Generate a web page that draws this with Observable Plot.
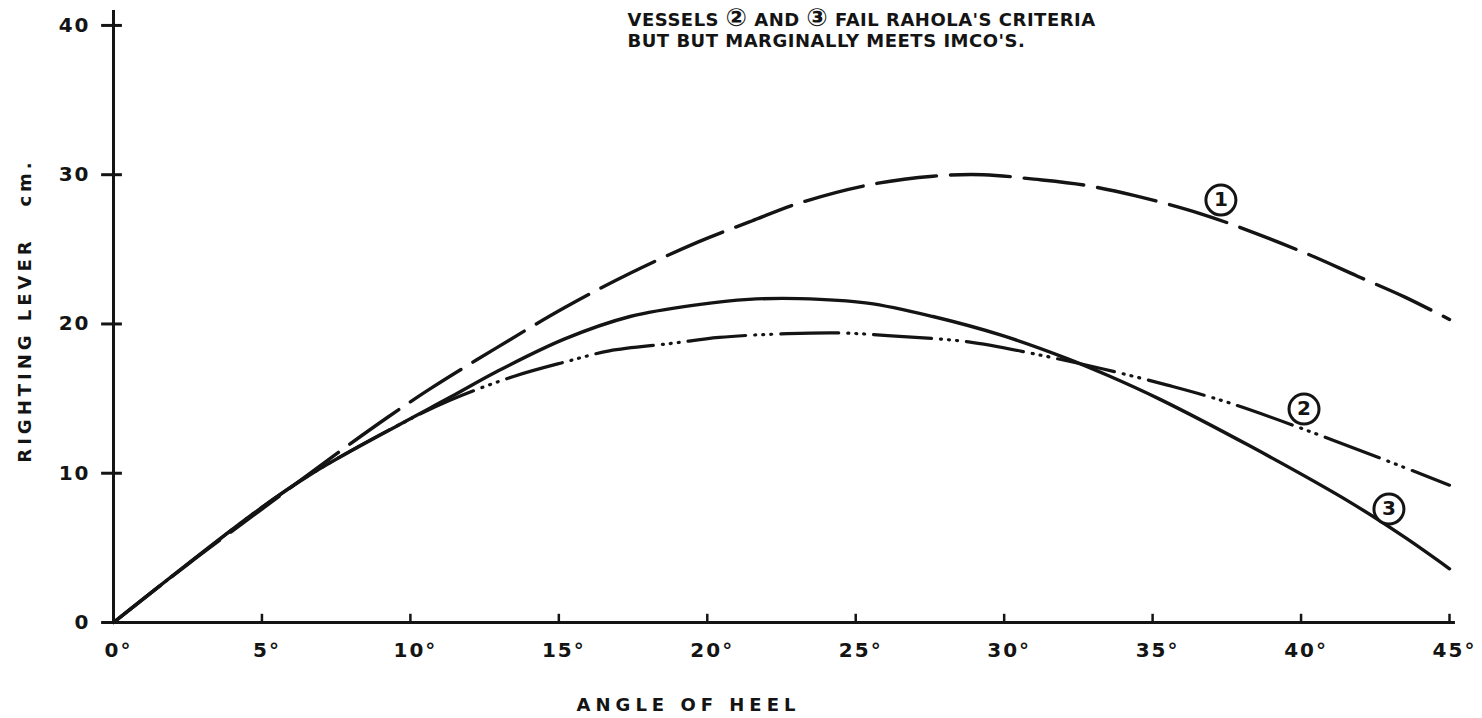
<!DOCTYPE html>
<html><head><meta charset="utf-8">
<script src="https://cdn.jsdelivr.net/npm/d3@7"></script>
<script src="https://cdn.jsdelivr.net/npm/@observablehq/plot@0.6"></script>
<style>body{margin:0;background:#fff}</style>
</head><body><div id="chart"></div>
<script>
// Vessel 1 (long dashes)
const angle1 = [0, 2.5, 5, 7.2, 9.2, 10.7, 12.9, 15.2, 17.4, 19.7, 21.5, 23.1, 25.4, 27.6, 29.3, 31.0, 32.7, 34.4, 36.6, 37.9, 40.2, 41.9, 43.5, 45];
const lever1 = [0, 3.9, 7.6, 10.85, 13.7, 15.7, 18.4, 21.1, 23.4, 25.5, 26.9, 28.1, 29.3, 29.9, 30.0, 29.7, 29.3, 28.6, 27.4, 26.5, 24.7, 23.2, 21.8, 20.3];
// Vessel 2 (dash-dot-dot)
const angle2 = [0, 4.85, 6.74, 9.67, 11.35, 13.5, 15.3, 16.7, 18.8, 20.4, 22.7, 24.5, 26.2, 28.8, 31.0, 33.3, 35.5, 37.6, 41.1, 45];
const lever2 = [0, 7.5, 10.05, 13.3, 14.9, 16.5, 17.5, 18.2, 18.7, 19.1, 19.35, 19.4, 19.2, 18.8, 18.0, 17.0, 15.9, 14.7, 12.2, 9.2];
// Vessel 3 (solid)
const angle3 = [0, 4.85, 6.74, 9.67, 11.35, 12.9, 15.2, 17.4, 19.7, 21.4, 23.1, 25.4, 27.6, 29.9, 32.1, 33.5, 35.2, 38.3, 41.7, 43.5, 45];
const lever3 = [0, 7.5, 10.05, 13.3, 15.1, 16.8, 19.0, 20.5, 21.3, 21.65, 21.7, 21.4, 20.5, 19.25, 17.7, 16.55, 15.0, 11.8, 8.0, 5.7, 3.6];

const xTicks = [0, 5, 10, 15, 20, 25, 30, 35, 40, 45];
const yTicks = [0, 10, 20, 30, 40];

const labelNames = ["1", "2", "3"];
const labelAngles = [37.3, 40.1, 42.96];
const labelLevers = [28.3, 14.3, 7.6];

const titleText = "VESSELS \u2461 AND \u2462 FAIL RAHOLA'S CRITERIA\nBUT BUT MARGINALLY MEETS IMCO'S.";
const xLabel = "ANGLE OF HEEL";
const yLabel = "RIGHTING LEVER\u00a0\u00a0\u00a0cm.";

const rows = (a, v, s) => a.map((x, i) => ({angle: x, lever: v[i], series: s}));
const data1 = rows(angle1, lever1, "1");
const data2 = rows(angle2, lever2, "2");
const data3 = rows(angle3, lever3, "3");
const labels = labelNames.map((n, i) => ({name: n, angle: labelAngles[i], lever: labelLevers[i]}));

const ink = "#141414";
const chart = Plot.plot({
  width: 1482,
  height: 718,
  marginLeft: 113,
  marginRight: 33,
  marginTop: 10,
  marginBottom: 96,
  style: {fontFamily: "DejaVu Sans", fontSize: "20px", color: ink, background: "#fff"},
  x: {domain: [0, 45], label: null},
  y: {domain: [0, 41], label: null},
  marks: [
    Plot.line(data1, {x: "angle", y: "lever", curve: "catmull-rom", stroke: ink, strokeWidth: 3.4, strokeDasharray: "60,14"}),
    Plot.line(data2, {x: "angle", y: "lever", curve: "catmull-rom", stroke: ink, strokeWidth: 3.2, strokeLinecap: "round", strokeDasharray: "58,9,1,7,1,7,1,9"}),
    Plot.line(data3, {x: "angle", y: "lever", curve: "catmull-rom", stroke: ink, strokeWidth: 3.4}),
    Plot.ruleX([0], {y1: 0, y2: 41, stroke: ink, strokeWidth: 3}),
    Plot.ruleY([0], {x1: -0.4, x2: 45.2, stroke: ink, strokeWidth: 3}),
    Plot.ruleY(yTicks.slice(1), {x1: -0.4, x2: 0.3, stroke: ink, strokeWidth: 3}),
    Plot.ruleX(xTicks.slice(1), {y1: 0, y2: 0.55, stroke: ink, strokeWidth: 2.5}),
    Plot.axisX({ticks: xTicks, tickFormat: d => d + "°", tickSize: 0, tickPadding: 20, dx: 5, label: null, fontWeight: "bold", ariaDescription: "ticks"}),
    Plot.axisY({ticks: yTicks, tickSize: 0, tickPadding: 23, label: null, fontWeight: "bold", ariaDescription: "ticks"}),
    Plot.dot(labels, {x: "angle", y: "lever", r: 15, stroke: ink, strokeWidth: 3, fill: "white"}),
    Plot.text(labels, {x: "angle", y: "lever", text: "name", fontSize: 20, fontWeight: "bold", fill: ink}),
    Plot.text([titleText], {frameAnchor: "top-left", dx: 514, dy: 0, textAnchor: "start", lineAnchor: "top", lineHeight: 1.2, fontSize: 18, fontWeight: "bold", fill: ink, ariaDescription: "title"}),
    Plot.text([yLabel], {frameAnchor: "left", dx: -88, dy: -6, rotate: -90, textAnchor: "middle", lineAnchor: "middle", fontSize: 18, fontWeight: "bold", fill: ink, ariaDescription: "ylabel"}),
    Plot.text([xLabel], {frameAnchor: "bottom", dx: -93, dy: 83, textAnchor: "middle", lineAnchor: "middle", fontSize: 18, fontWeight: "bold", fill: ink, ariaDescription: "xlabel"})
  ]
});
document.getElementById("chart").appendChild(chart);
const sp = {ticks: "2px", title: "0.5px", ylabel: "4px", xlabel: "5px"};
for (const [k, v] of Object.entries(sp)) {
  chart.querySelectorAll(`g[aria-description="${k}"] text`).forEach(t => t.setAttribute("letter-spacing", v));
}
// enlarge the circled numerals inside the title lines
chart.querySelectorAll(`g[aria-description="title"] tspan`).forEach(ts => {
  const parts = ts.textContent.split(/([\u2460-\u2462])/);
  if (parts.length < 2) return;
  ts.textContent = "";
  for (const p of parts) {
    if (!p) continue;
    const s = document.createElementNS("http://www.w3.org/2000/svg", "tspan");
    s.textContent = p;
    if (/[\u2460-\u2462]/.test(p)) s.setAttribute("font-size", "25");
    ts.appendChild(s);
  }
});
</script>
</body></html>
